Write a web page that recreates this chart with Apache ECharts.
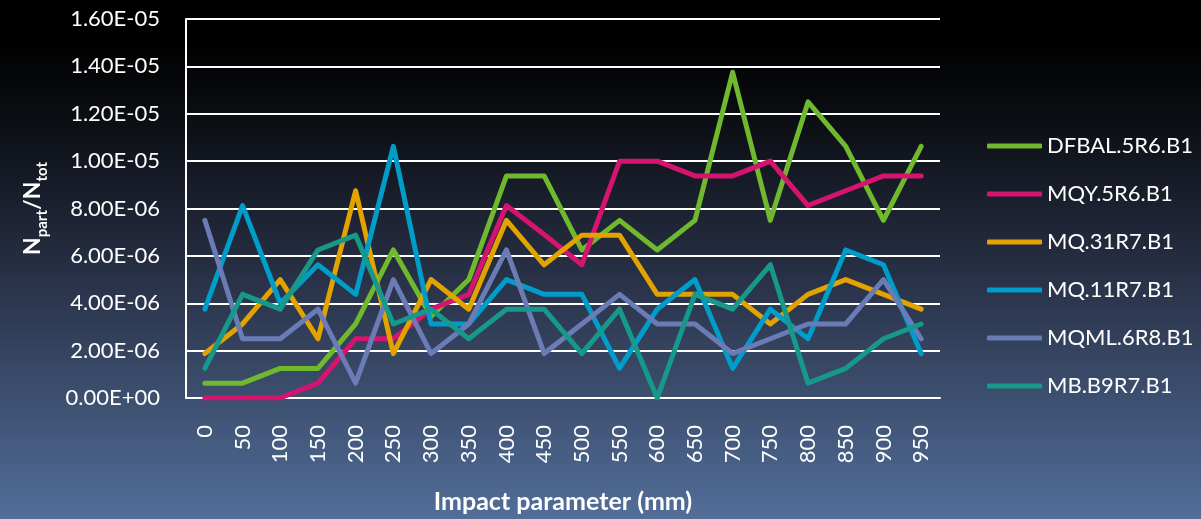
<!DOCTYPE html>
<html>
<head>
<meta charset="utf-8">
<script src="https://cdn.jsdelivr.net/npm/echarts@6/dist/echarts.min.js"></script>
<style>
html,body{margin:0;padding:0;background:#000;}
#chart{width:1201px;height:519px;}
</style>
</head>
<body>
<div id="chart"></div>
<script>
// Data (N_part / N_tot)
const categories = ['0','50','100','150','200','250','300','350','400','450','500','550','600','650','700','750','800','850','900','950'];
const seriesNames = ['DFBAL.5R6.B1','MQY.5R6.B1','MQ.31R7.B1','MQ.11R7.B1','MQML.6R8.B1','MB.B9R7.B1'];
const dfbal = [6.25e-7, 6.25e-7, 1.25e-6, 1.25e-6, 3.125e-6, 6.25e-6, 3.44e-6, 5.0e-6, 9.375e-6, 9.375e-6, 6.25e-6, 7.5e-6, 6.25e-6, 7.5e-6, 1.375e-5, 7.5e-6, 1.25e-5, 1.0625e-5, 7.5e-6, 1.0625e-5];
const mqy   = [0, 0, 0, 6.25e-7, 2.5e-6, 2.5e-6, 3.75e-6, 4.375e-6, 8.125e-6, 6.9e-6, 5.625e-6, 1.0e-5, 1.0e-5, 9.375e-6, 9.375e-6, 1.0e-5, 8.125e-6, 8.75e-6, 9.375e-6, 9.375e-6];
const mq31  = [1.875e-6, 3.125e-6, 5.0e-6, 2.5e-6, 8.75e-6, 1.875e-6, 5.0e-6, 3.75e-6, 7.5e-6, 5.625e-6, 6.875e-6, 6.875e-6, 4.375e-6, 4.375e-6, 4.375e-6, 3.125e-6, 4.375e-6, 5.0e-6, 4.375e-6, 3.75e-6];
const mq11  = [3.75e-6, 8.125e-6, 4.0e-6, 5.625e-6, 4.375e-6, 1.0625e-5, 3.125e-6, 3.125e-6, 5.0e-6, 4.375e-6, 4.375e-6, 1.25e-6, 3.75e-6, 5.0e-6, 1.25e-6, 3.75e-6, 2.5e-6, 6.25e-6, 5.625e-6, 1.875e-6];
const mqml  = [7.5e-6, 2.5e-6, 2.5e-6, 3.75e-6, 6.25e-7, 5.0e-6, 1.875e-6, 3.125e-6, 6.25e-6, 1.875e-6, 3.125e-6, 4.375e-6, 3.125e-6, 3.125e-6, 1.875e-6, 2.5e-6, 3.125e-6, 3.125e-6, 5.0e-6, 2.5e-6];
const mbb9  = [1.25e-6, 4.375e-6, 3.75e-6, 6.25e-6, 6.875e-6, 3.125e-6, 3.75e-6, 2.5e-6, 3.75e-6, 3.75e-6, 1.875e-6, 3.75e-6, 0, 4.375e-6, 3.75e-6, 5.625e-6, 6.25e-7, 1.25e-6, 2.5e-6, 3.125e-6];
const seriesValues = [dfbal, mqy, mq31, mq11, mqml, mbb9];
const colors = ['#70b92e', '#d4146f', '#e2a300', '#009dca', '#6a7bb5', '#16998a'];

const FONT = 'Lato';

function sci(v) {
  let s = Number(v).toExponential(2).toUpperCase();
  return s.replace(/E([+-])(\d)$/, 'E$10$2');
}

const chart = echarts.init(document.getElementById('chart'), null, {renderer: 'canvas'});
chart.setOption({
  animation: false,
  backgroundColor: new echarts.graphic.LinearGradient(0, 0, 0, 1, [
    {offset: 0, color: '#000000'},
    {offset: 0.08, color: '#000000'},
    {offset: 0.25, color: '#0d1016'},
    {offset: 0.52, color: '#272f44'},
    {offset: 0.77, color: '#3d5070'},
    {offset: 1, color: '#526e99'}
  ]),
  color: colors,
  textStyle: {fontFamily: FONT, color: '#ffffff'},
  grid: {left: 186, right: 261, top: 19, bottom: 118, containLabel: false},
  legend: {
    orient: 'vertical',
    left: 982,
    top: 128,
    itemWidth: 55,
    itemHeight: 5,
    itemGap: 22,
    icon: 'roundRect',
    data: seriesNames,
    textStyle: {fontFamily: FONT, fontSize: 22, color: '#ffffff', lineHeight: 26}
  },
  xAxis: {
    type: 'category',
    data: categories,
    boundaryGap: true,
    name: 'Impact parameter (mm)',
    nameLocation: 'middle',
    nameGap: 91,
    nameTextStyle: {fontFamily: FONT, fontSize: 25, fontWeight: 'bold', color: '#ffffff'},
    axisLine: {show: true, lineStyle: {color: '#ffffff', width: 2}},
    axisTick: {show: false},
    axisLabel: {rotate: 90, margin: 27, fontFamily: FONT, fontSize: 22, color: '#ffffff', interval: 0},
    splitLine: {show: false}
  },
  yAxis: {
    type: 'value',
    min: 0,
    max: 1.6e-5,
    interval: 2e-6,
    name: '{n|N}{s|part}{n|/N}{s|tot}',
    nameLocation: 'middle',
    nameRotate: 90,
    nameGap: 142,
    nameTextStyle: {
      color: '#ffffff',
      rich: {
        n: {fontFamily: FONT, fontSize: 23, fontWeight: 'bold', color: '#ffffff', lineHeight: 30, verticalAlign: 'bottom'},
        s: {fontFamily: FONT, fontSize: 15, fontWeight: 'bold', color: '#ffffff', lineHeight: 30, verticalAlign: 'bottom', padding: [0, 0, -6, 0]}
      }
    },
    axisLine: {show: true, lineStyle: {color: '#ffffff', width: 2}},
    axisTick: {show: false},
    axisLabel: {margin: 26, fontFamily: FONT, fontSize: 22, color: '#ffffff', formatter: sci},
    splitLine: {show: true, lineStyle: {color: '#ffffff', width: 2}}
  },
  series: seriesNames.map((name, i) => ({
    name: name,
    type: 'line',
    data: seriesValues[i],
    symbol: 'none',
    showSymbol: false,
    lineStyle: {width: 5, color: colors[i], cap: 'round', join: 'round'},
    itemStyle: {color: colors[i]}
  }))
});
</script>
</body>
</html>
